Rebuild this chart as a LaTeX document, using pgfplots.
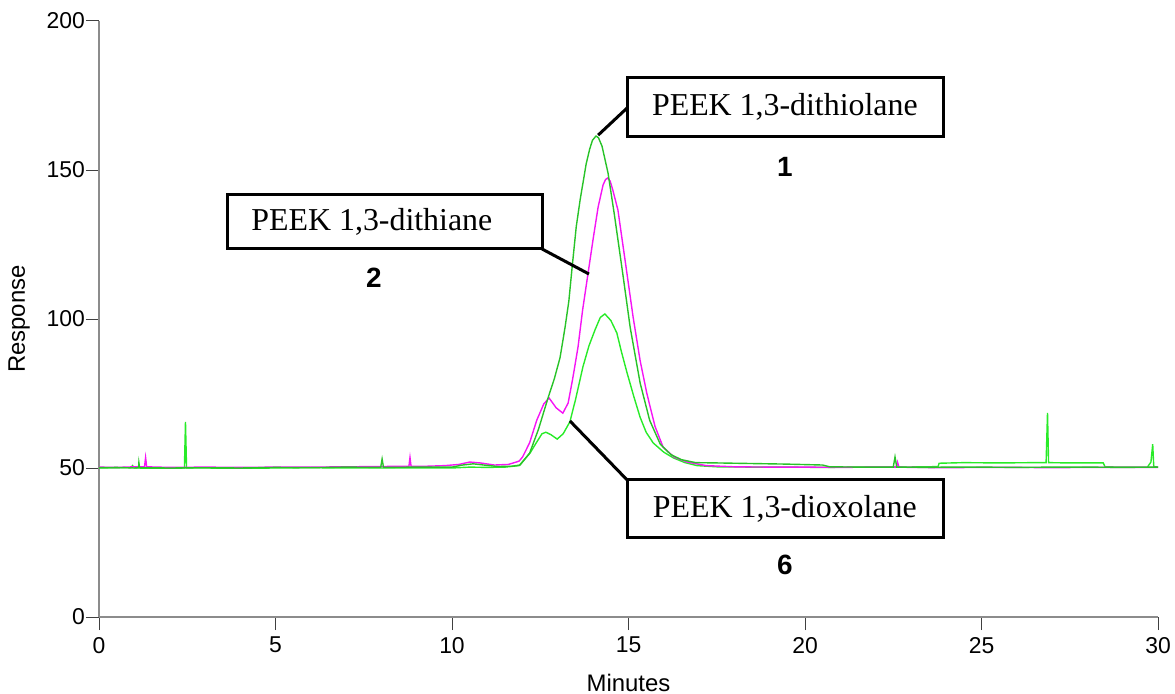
\documentclass[border=0pt]{standalone}
\usepackage{pgfplots}
\pgfplotsset{compat=1.18}
\usepackage{fontspec}
\setmainfont{Liberation Sans}
\newfontfamily\timesfont{Liberation Serif}
\definecolor{dkgreen}{RGB}{40,195,40}
\definecolor{ltgreen}{RGB}{40,235,40}
\definecolor{magen}{RGB}{245,20,245}
\begin{document}
\begin{tikzpicture}
\begin{axis}[
    scale only axis,
    width=529.5bp, height=298bp,
    xmin=0, xmax=30, ymin=0, ymax=200,
    axis x line*=bottom, axis y line*=left,
    axis line style={-, black!45, line width=0.75bp},
    xtick={0,5,...,30}, ytick={0,50,...,200},
    tick align=outside, major tick length=6.5bp,
    tick style={black!75, line width=0.5bp},
    ticklabel style={font=\fontsize{11.5}{13}\selectfont},
    yticklabel style={xshift=3bp},
    /pgf/number format/assume math mode=true,
    xlabel={Minutes}, ylabel={Response},
    label style={font=\fontsize{12}{14}\selectfont},
    xlabel style={at={(axis description cs:0.5,-0.1107)}, anchor=center},
    ylabel style={at={(axis description cs:-0.0755,0.5)}, anchor=center},
    clip=false,
    every axis plot/.append style={line width=0.7bp},
]
% 6: PEEK 1,3-dioxolane
\addplot[ltgreen] coordinates {
 (0,50.0) (0.9,50.1) (0.95,50.8) (1.0,50.0) (2,49.9) (2.42,50.0) (2.45,65.5) (2.48,50.0)
 (3,50.0) (4,49.9) (5,50.0) (6,50.1) (7,50.0) (8,50.0) (9,50.0) (10,50.0) (10.5,50.3)
 (11,50.2) (11.5,50.3) (11.9,50.8) (12.21,55) (12.4,58.7) (12.55,61.5) (12.66,62) (12.8,61.2)
 (12.98,59.7) (13.15,61.5) (13.34,65.5) (13.5,73) (13.71,84) (13.88,91) (14.05,96.3)
 (14.2,100.5) (14.33,101.7) (14.5,99.5) (14.67,95.3) (14.8,89) (14.96,81.9) (15.15,74)
 (15.33,67) (15.5,62) (15.7,58.4) (16.0,55.3) (16.27,53.4) (16.6,51.8) (16.94,50.8)
 (17.5,50.4) (18.5,50.3) (19.5,50.3) (20.5,50.2) (21.5,50.3) (22.5,50.3) (23.5,50.4)
 (23.77,50.5) (23.8,51.6) (24.5,51.8) (25.5,51.7) (26.5,51.8) (26.83,51.8) (26.87,68.5)
 (26.9,51.8) (27.5,51.7) (28.45,51.7) (28.5,50.4) (29,50.3) (29.7,50.3) (29.8,52)
 (29.85,58) (29.88,50.5) (30,50.3)
};
% 2: PEEK 1,3-dithiane
\addplot[magen] coordinates {
 (0,50.3) (0.5,50.2) (1.0,50.4) (1.29,50.4) (1.32,53.5) (1.35,50.4) (2,50.2) (3,50.3)
 (4,50.2) (5,50.3) (6,50.3) (7,50.4) (8,50.5) (8.78,50.6) (8.81,53.5) (8.84,50.6)
 (9.3,50.6) (9.8,50.8) (10.2,51.2) (10.5,52.0) (10.8,51.7) (11.2,51.0) (11.6,51.2)
 (11.9,52.3) (12.0,53.7) (12.2,58.5) (12.4,66) (12.6,71.5) (12.75,73.5) (12.95,70.2)
 (13.14,68.4) (13.29,71.8) (13.42,80) (13.57,90.6) (13.7,103) (13.85,115) (14.0,127)
 (14.14,137.6) (14.28,145) (14.35,146.8) (14.41,147.3) (14.48,146.3) (14.55,143.5)
 (14.7,136.6) (14.9,120) (15.13,100.7) (15.33,86) (15.52,75) (15.75,64) (15.98,57)
 (16.3,53.6) (16.66,52.0) (17.2,50.8) (18,50.4) (19,50.3) (20,50.3) (21,50.2) (22,50.3)
 (22.58,50.3) (22.62,52) (22.66,50.3) (23,50.2) (24,50.1) (25,50.2) (26,50.2) (27,50.1)
 (28,50.2) (29,50.2) (30,50.2)
};
% 1: PEEK 1,3-dithiolane
\addplot[dkgreen] coordinates {
 (0,50.1) (0.5,50.2) (1.0,50.0) (1.12,50.1) (1.13,51.8) (1.15,50.1) (2,50.0) (3,50.1)
 (4,50.0) (5,50.2) (6,50.1) (7,50.3) (7.98,50.2) (8.02,53.0) (8.06,50.2) (9,50.3)
 (10,50.3) (10.3,51.0) (10.6,51.4) (10.9,51.0) (11.3,50.5) (11.7,50.6) (11.93,51.0)
 (12.2,55) (12.45,63) (12.72,73.5) (12.9,80) (13.06,87) (13.2,97) (13.31,106) (13.4,117)
 (13.52,131) (13.63,140) (13.8,152) (13.9,157) (13.98,160) (14.08,161.4) (14.15,160.8)
 (14.25,158) (14.42,149) (14.6,135) (14.84,115) (15.05,97) (15.33,78.5) (15.6,66)
 (15.9,58) (16.2,54.5) (16.5,52.8) (16.9,51.8) (17.5,51.7) (18.5,51.5) (19.5,51.3)
 (20.5,51.0) (20.7,50.4) (21.5,50.3) (22.5,50.3) (22.55,53.7) (22.6,50.3) (23.5,50.2)
 (24,50.3) (25,50.3) (26,50.2) (27,50.3) (28,50.3) (29,50.2) (30,50.3)
};
% annotations
\draw[line width=1.5bp] (axis cs:14.96,180.9) rectangle (axis cs:23.91,161.4);
\node[font=\timesfont\fontsize{16}{18}\selectfont] at (axis cs:19.43,171.1) {PEEK 1,3-dithiolane};
\node[font=\bfseries\fontsize{14}{16}\selectfont] at (axis cs:19.43,151) {1};
\draw[line width=1.5bp] (axis cs:14.14,161.7) -- (axis cs:14.96,170.8);

\draw[line width=1.5bp] (axis cs:3.63,141.9) rectangle (axis cs:12.55,123.5);
\node[font=\timesfont\fontsize{16}{18}\selectfont] at (axis cs:7.73,132.6) {PEEK 1,3-dithiane};
\node[font=\bfseries\fontsize{14}{16}\selectfont] at (axis cs:7.79,113.8) {2};
\draw[line width=1.5bp] (axis cs:12.55,123.5) -- (axis cs:13.88,115.1);

\draw[line width=1.5bp] (axis cs:14.96,46.0) rectangle (axis cs:23.91,26.8);
\node[font=\timesfont\fontsize{16}{18}\selectfont] at (axis cs:19.43,36.4) {PEEK 1,3-dioxolane};
\node[font=\bfseries\fontsize{14}{16}\selectfont] at (axis cs:19.43,17.4) {6};
\draw[line width=1.5bp] (axis cs:13.34,65.8) -- (axis cs:14.96,46.0);
\end{axis}
\pgfresetboundingbox
\path[use as bounding box] (-49.5bp,-38.5bp) rectangle (538bp,308.5bp);
\end{tikzpicture}
\end{document}
